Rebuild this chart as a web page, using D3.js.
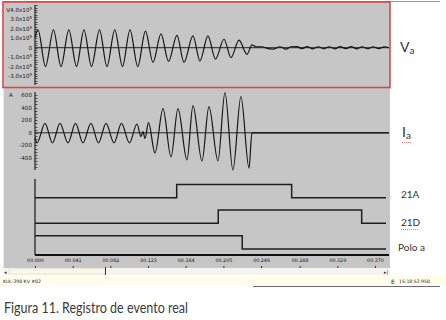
<!DOCTYPE html>
<html>
<head>
<meta charset="utf-8">
<script src="https://cdn.jsdelivr.net/npm/d3@7"></script>
<style>
  body { margin: 0; background: #fff; }
  svg { display: block; }
</style>
</head>
<body>
<svg id="chart" width="446" height="320"></svg>
<script>
// time in ms
const vaTime = [0, 3.3, 11.4, 20.1, 28.3, 36.8, 45.2, 53.3, 61.5, 70.2, 78.3, 86.8, 95.2, 103.4, 111.8,
  120.2, 128.4, 137.1, 145.3, 154.5, 162.1, 171.9, 179.5, 188.2, 196.4, 205.7, 213.3, 222.0, 230.7,
  236.1, 240.5, 247.0, 253.5, 259.0, 266.6, 273.1, 278.6, 285.1, 290.5, 296.0, 302.5, 307.9, 314.5,
  319.9, 326.4, 331.9, 338.4, 343.9, 350.4, 355.8, 362.4, 367.8, 374.3, 379.8, 385.2];
const vaValue = [1.1, 1.9, -2.0, 1.9, -2.0, 1.9, -2.0, 1.9, -2.0, 1.9, -2.0, 1.9, -2.0, 1.9, -2.0,
  1.75, -1.55, 1.47, -1.45, 1.3, -1.55, 1.26, -1.4, 1.26, -1.2, 0.9, -1.05, 0.8, -0.7,
  0.3, 0.1, 0.1, -0.1, -0.15, 0.1, -0.15, 0.1, 0.12, -0.1, 0.12, -0.12, 0.1, -0.12,
  0.1, -0.12, 0.12, -0.1, 0.12, -0.12, 0.1, -0.12, 0.1, -0.1, 0.08, 0.0]; // x1e5 V

const iaTime = [0, 2.2, 10.9, 19.0, 27.2, 35.9, 44.1, 52.2, 60.9, 69.1, 77.3, 86.0, 94.1, 102.8, 111.0,
  115.3, 117.5, 119.7, 123.5, 130.6, 139.3, 148.0, 155.6, 165.4, 171.9, 181.7, 189.3, 199.1, 206.7,
  215.4, 224.1, 232.9, 236.1, 385.2];
const iaValue = [-80, -160, 150, -160, 150, -160, 150, -160, 150, -160, 150, -160, 150, -160, 140,
  -60, 20, -90, 160, -320, 384, -384, 384, -432, 432, -448, 416, -448, 640,
  -592, 576, -560, 0, 0]; // A

const vTicks = [4, 3, 2, 1, 0, -1, -2, -3];
const iTicks = [600, 400, 200, 0, -200, -400];
const timeTicks = [0, 41, 82, 123, 164, 205, 246, 288, 329, 370];
const timeLabels = ["00.000", "00.041", "00.082", "00.123", "00.164", "00.205", "00.246", "00.288", "00.329", "00.370"];

const channels = ["21A", "21D", "Polo a"];
const chStart = [0, 0, 1];           // initial state 0 = low, 1 = high
const chEdges = [[154.2, 279.3], [199.4, 355.5], [225.5]]; // ms of each toggle
const tEnd = 382;

const svg = d3.select("#chart");
const font = "DejaVu Sans, sans-serif";

// window background
svg.append("rect").attr("x", 3).attr("y", 2).attr("width", 387).attr("height", 266).attr("fill", "#c6c6c6");
svg.append("line").attr("x1", 3).attr("x2", 440).attr("y1", 1.5).attr("y2", 1.5).attr("stroke", "#9a9a9a");
svg.append("line").attr("x1", 3.5).attr("x2", 3.5).attr("y1", 2).attr("y2", 268).attr("stroke", "#e8e8e8");

const x = d3.scaleLinear().domain([0, 370]).range([35, 375]);
const yV = d3.scaleLinear().domain([-3, 4]).range([76, 10]);
const yI = d3.scaleLinear().domain([-400, 600]).range([158, 95]);

// ruler-like y axes
function ruler(scale, y0, y1, step) {
  const g = svg.append("g");
  g.append("line").attr("x1", 35).attr("x2", 35).attr("y1", y0).attr("y2", y1)
    .attr("stroke", "#222").attr("stroke-width", 1.2);
  const minor = d3.range(Math.ceil(scale.invert(y1) / step) * step, scale.invert(y0) + 1e-9, step);
  g.selectAll("line.m").data(minor).join("line").attr("class", "m")
    .attr("x1", 35).attr("x2", 37.5)
    .attr("y1", d => Math.round(scale(d)) + 0.5).attr("y2", d => Math.round(scale(d)) + 0.5)
    .attr("stroke", "#333").attr("stroke-width", 0.8);
  return g;
}
ruler(yV, 5, 85, 0.25);
ruler(yI, 92, 170, 50);

// voltage tick labels
const vLab = svg.append("g").attr("font-family", font).attr("font-size", 5.6).attr("fill", "#222");
vLab.selectAll("text").data(vTicks).join("text")
  .attr("x", 32).attr("y", d => yV(d) + 2).attr("text-anchor", "end")
  .each(function (d) {
    const t = d3.select(this);
    if (d === 0) { t.text("0"); return; }
    t.append("tspan").text((d === 4 ? "V" : "") + d3.format(".1f")(d).replace("−", "-") + "x10");
    t.append("tspan").attr("dy", -2).attr("font-size", 4).text("5");
  });

svg.append("text").attr("x", 9).attr("y", yI(600) + 2).attr("font-family", font)
  .attr("font-size", 5.6).attr("fill", "#222").text("A");
svg.append("g").attr("font-family", font).attr("font-size", 5.6).attr("fill", "#222")
  .selectAll("text").data(iTicks).join("text")
  .attr("x", 32).attr("y", d => yI(d) + 2).attr("text-anchor", "end").text(d => d);

// zero lines
svg.append("line").attr("x1", 35).attr("x2", 389).attr("y1", yV(0)).attr("y2", yV(0)).attr("stroke", "#111").attr("stroke-width", 0.9);
svg.append("line").attr("x1", 35).attr("x2", 389).attr("y1", yI(0)).attr("y2", yI(0)).attr("stroke", "#111").attr("stroke-width", 0.9);

// waveforms
const va = vaTime.map((t, i) => [t, vaValue[i]]);
const ia = iaTime.map((t, i) => [t, iaValue[i]]);
svg.append("path").datum(va)
  .attr("d", d3.line().x(d => x(d[0])).y(d => yV(d[1])).curve(d3.curveMonotoneX))
  .attr("fill", "none").attr("stroke", "#151515").attr("stroke-width", 1.2);
svg.append("path").datum(ia)
  .attr("d", d3.line().x(d => x(d[0])).y(d => yI(d[1])).curve(d3.curveMonotoneX))
  .attr("fill", "none").attr("stroke", "#151515").attr("stroke-width", 1.2);

// red frame around the selected voltage channel
svg.append("rect").attr("x", 3).attr("y", 2).attr("width", 387).attr("height", 85.5)
  .attr("fill", "none").attr("stroke", "#d2494c").attr("stroke-width", 1.6);

// digital channels
const lowY = { "21A": 197.7, "21D": 223.3, "Polo a": 249 };
const level = 13.3;
channels.forEach((c, i) => {
  let s = chStart[i];
  const pts = [[0, s]];
  chEdges[i].forEach(e => { pts.push([e, s]); s = 1 - s; pts.push([e, s]); });
  pts.push([tEnd, s]);
  svg.append("path").datum(pts)
    .attr("d", d3.line().x(d => x(d[0])).y(d => lowY[c] - d[1] * level))
    .attr("fill", "none").attr("stroke", "#1e1e1e").attr("stroke-width", 1.5);
});
svg.append("line").attr("x1", 35).attr("x2", 35).attr("y1", 179).attr("y2", 255).attr("stroke", "#222").attr("stroke-width", 1.3);

// time axis
const xAxis = d3.axisBottom(x).tickValues(timeTicks).tickSize(0).tickPadding(4)
  .tickFormat((d, i) => timeLabels[i]);
const gx = svg.append("g").attr("transform", "translate(0,255)").call(xAxis);
gx.select(".domain").remove();
gx.append("line").attr("x1", 35).attr("x2", 389).attr("y1", 0).attr("y2", 0).attr("stroke", "#111").attr("stroke-width", 2);
gx.selectAll(".tick text").attr("font-family", font).attr("font-size", 4.8).attr("fill", "#111");
gx.selectAll(".tick").append("line").attr("y1", 11).attr("y2", 13).attr("stroke", "#333");

// scroll bar
svg.append("rect").attr("x", 3).attr("y", 268).attr("width", 387).attr("height", 7).attr("fill", "#f4f4f2");
svg.append("rect").attr("x", 9).attr("y", 269).attr("width", 96).attr("height", 5).attr("fill", "#fbf8e6").attr("stroke", "#ddd6b8").attr("stroke-width", 0.5);
svg.append("line").attr("x1", 105.5).attr("x2", 105.5).attr("y1", 267).attr("y2", 275).attr("stroke", "#333");
svg.append("text").attr("x", 4).attr("y", 274).attr("font-family", font).attr("font-size", 5).attr("fill", "#333").text("◂");
svg.append("text").attr("x", 384).attr("y", 274).attr("font-family", font).attr("font-size", 5).attr("fill", "#333").text("▸|");

// status bar
svg.append("rect").attr("x", 0).attr("y", 276).attr("width", 446).attr("height", 10).attr("fill", "#fffcec");
svg.append("text").attr("x", 3).attr("y", 283).attr("font-family", font).attr("font-size", 4.6).attr("fill", "#222").text("KUL-290 KV #02");
svg.append("text").attr("x", 391).attr("y", 284).attr("font-family", font).attr("font-size", 6).attr("fill", "#222").text("E");
svg.append("text").attr("x", 399).attr("y", 283).attr("font-family", font).attr("font-size", 4.6).attr("fill", "#222").text("15:10:52.950");
svg.append("line").attr("x1", 253).attr("x2", 440).attr("y1", 286.5).attr("y2", 286.5).attr("stroke", "#445").attr("stroke-width", 0.8);

// channel names on the right
const lab = "Lato, 'Open Sans', sans-serif";
const va_t = svg.append("text").attr("x", 400).attr("y", 52).attr("font-family", lab).attr("font-size", 14).attr("fill", "#333");
va_t.append("tspan").text("V");
va_t.append("tspan").attr("dy", 2).attr("font-size", 10).text("a");
const ia_t = svg.append("text").attr("x", 402).attr("y", 137).attr("font-family", lab).attr("font-size", 14).attr("fill", "#333");
ia_t.append("tspan").text("I");
ia_t.append("tspan").attr("dy", 2).attr("font-size", 10).text("a");
svg.append("text").attr("x", 401).attr("y", 198).attr("font-family", lab).attr("font-size", 10).attr("fill", "#333").text("21A");
svg.append("text").attr("x", 401).attr("y", 226).attr("font-family", lab).attr("font-size", 10).attr("fill", "#333").text("21D");
svg.append("text").attr("x", 398).attr("y", 251).attr("font-family", lab).attr("font-size", 10).attr("fill", "#333").text("Polo a");
// spell-check squiggles
[[402, 411, 142.5], [401, 419, 229.5]].forEach(([a, b, yy]) => {
  svg.append("line").attr("x1", a).attr("x2", b).attr("y1", yy).attr("y2", yy)
    .attr("stroke", "#e06060").attr("stroke-width", 0.8).attr("stroke-dasharray", "1,1");
});

// caption
svg.append("text").attr("x", 4).attr("y", 313).attr("font-family", lab).attr("font-size", 15.5)
  .attr("fill", "#3a3a3a").attr("textLength", 184).attr("lengthAdjust", "spacingAndGlyphs")
  .text("Figura 11. Registro de evento real");
</script>
</body>
</html>
